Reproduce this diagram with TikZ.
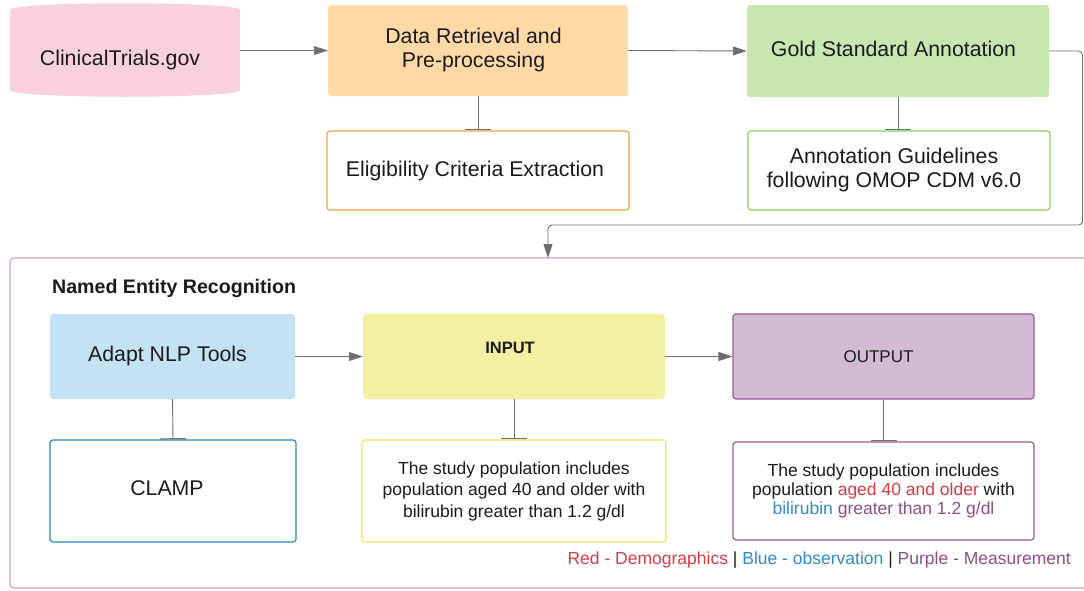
\documentclass[tikz,border=0pt]{standalone}
\usepackage{fontspec}
\setmainfont{Liberation Sans}
\usetikzlibrary{arrows.meta}
\definecolor{pinkf}{HTML}{F9D1DC}
\definecolor{orangef}{HTML}{FFD9A6}
\definecolor{greenf}{HTML}{C8E7B0}
\definecolor{orangeb}{HTML}{F0A04B}
\definecolor{greenb}{HTML}{8CCB62}
\definecolor{bluef}{HTML}{C3E3F5}
\definecolor{yellowf}{HTML}{F3F1A1}
\definecolor{purplef}{HTML}{D3BAD3}
\definecolor{purpleb}{HTML}{9A5A9A}
\definecolor{blueb}{HTML}{2B86C0}
\definecolor{yellowb}{HTML}{EFEB96}
\definecolor{framec}{HTML}{C8A2C8}
\definecolor{linec}{HTML}{6E6E6E}
\definecolor{redt}{HTML}{D83A44}
\definecolor{bluet}{HTML}{2E8CC4}
\definecolor{purplet}{HTML}{8D4D8D}
\definecolor{txt}{HTML}{1A1A1A}
\tikzset{
  box/.style={rounded corners=3pt, inner sep=0pt, align=center, text=txt},
  big/.style={font=\fontsize{21.3}{24}\selectfont},
  mid/.style={font=\fontsize{17.5}{21.5}\selectfont},
  conn/.style={draw=linec, line width=0.9pt},
  arr/.style={conn, -{Triangle[length=14pt,width=9pt]}},
  tee/.style={conn, -{Bar[width=26pt,line width=1.2pt]}},
}
\begin{document}
\begin{tikzpicture}[x=1pt,y=-1pt]
\useasboundingbox (0,0) rectangle (1084,590);
% cylinder
\fill[pinkf] (10,10) .. controls (10,1) and (240,1) .. (240,10) -- (240,90)
  .. controls (240,99) and (10,99) .. (10,90) -- cycle;
\node[box, big, minimum width=240pt, minimum height=70pt] (ct) at (120,59.5) {ClinicalTrials.gov};
% top row
\node[box, big, fill=orangef, minimum width=300pt, minimum height=91pt] (dr) at (478,50.5) {\raisebox{8pt}{\begin{tabular}{@{}c@{}}Data Retrieval and\\Pre-processing\end{tabular}}\hspace*{9pt}};
\node[box, big, fill=greenf, minimum width=302pt, minimum height=92pt] (gs) at (898,51) {\raisebox{4pt}{Gold Standard Annotation}\hspace*{9pt}};
\node[box, big, draw=orangeb, line width=1.2pt, fill=white, minimum width=302pt, minimum height=79pt] (el) at (478,170.5) {\raisebox{4pt}{Eligibility Criteria Extraction}\hspace*{6pt}};
\node[box, big, draw=greenb, line width=1.2pt, fill=white, minimum width=302pt, minimum height=79pt] (ag) at (899,170.5) {\raisebox{4pt}{\begin{tabular}{@{}c@{}}Annotation Guidelines\\following OMOP CDM v6.0\end{tabular}}\hspace*{10pt}};
% NER frame
\draw[framec, line width=1.2pt, rounded corners=4pt] (1090,258) -- (10,258) -- (10,588) -- (1090,588);
\coordinate (ner) at (548,258);
\node[anchor=west, text=txt, font=\fontsize{19.6}{22}\selectfont\bfseries, inner sep=0pt] (title) at (52,288) {Named Entity Recognition};
% NER row 1
\node[box, big, fill=bluef, minimum width=245pt, minimum height=85pt] (ad) at (172.5,356.5) {\raisebox{5pt}{Adapt NLP Tools}\hspace*{10pt}};
\node[box, fill=yellowf, minimum width=302pt, minimum height=85pt, font=\fontsize{16.5}{20}\selectfont\bfseries] (in) at (514,356.5) {\raisebox{17pt}{INPUT}\hspace*{8pt}};
\node[box, fill=purplef, draw=purpleb, line width=1.2pt, minimum width=301pt, minimum height=85pt, font=\fontsize{17}{20}\selectfont] (out) at (883.5,356.5) {OUTPUT\hspace*{10pt}};
% NER row 2
\node[box, big, draw=blueb, line width=1.2pt, minimum width=246pt, minimum height=102pt] (cl) at (173,491) {\raisebox{6pt}{CLAMP}\hspace*{12pt}};
\node[box, mid, draw=yellowb, line width=1.8pt, minimum width=304pt, minimum height=102pt] (it) at (514,491) {The study population includes\\population aged 40 and older with\\bilirubin greater than 1.2 g/dl};
\node[box, draw=purpleb, line width=1.2pt, minimum width=301pt, minimum height=98pt, font=\fontsize{17.5}{19}\selectfont] (ot) at (883.5,491) {The study population includes\\population \textcolor{redt}{aged 40 and older} with\\\textcolor{bluet}{bilirubin} \textcolor{purplet}{greater than 1.2 g/dl}};
\node[text=txt, font=\fontsize{17.5}{21}\selectfont, anchor=east, inner sep=0pt] (leg) at (1071,560) {\textcolor{redt}{Red - Demographics} | \textcolor{bluet}{Blue - observation} | \textcolor{purplet}{Purple - Measurement}};
% connectors
\draw[arr] (ct.east |- dr.west) -- (dr.west);
\draw[arr] (dr.east) -- (gs.west);
\draw[tee] (dr.south) -- (el.north);
\draw[tee] (gs.south) -- (gs.south |- ag.north);
\draw[arr, rounded corners=4pt] (gs.east) -- (1082.5,51) -- (1082.5,225) -- (548,225) -- (ner);
\draw[arr] (ad.east) -- (in.west);
\draw[arr] (in.east) -- (out.west);
\draw[tee] (ad.south) -- (cl.north);
\draw[tee] (in.south) -- (it.north);
\draw[tee] (out.south) -- (ot.north);
\end{tikzpicture}
\end{document}
